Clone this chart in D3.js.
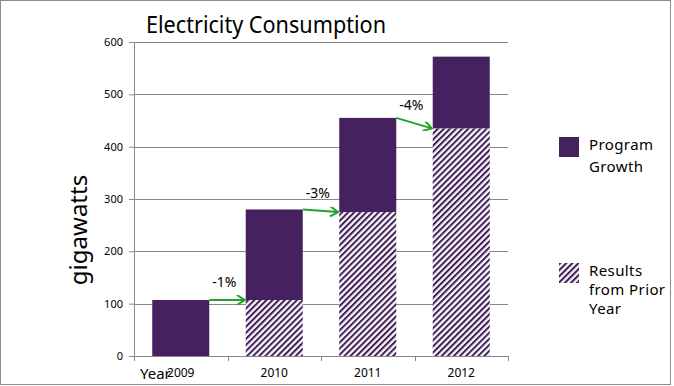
<!DOCTYPE html>
<html>
<head>
<meta charset="utf-8">
<script src="https://cdn.jsdelivr.net/npm/d3@7"></script>
<style>
    body { margin: 0; background: #ffffff; }
    svg text { font-family: "Noto Sans", "DejaVu Sans", sans-serif; }
</style>
</head>
<body>
<div id="chart"></div>
<script>
// chart values
const years = ["2009", "2010", "2011", "2012"];
const priorYear = [0, 107, 275, 435];
const programGrowth = [107, 173, 180, 137];
const changeLabels = ["-1%", "-3%", "-4%"];
const yTicks = [0, 100, 200, 300, 400, 500, 600];

const width = 674;
const height = 386;
const margin = { top: 42, right: 166, bottom: 30, left: 134 };

const svg = d3.select("#chart")
    .append("svg")
    .attr("width", width)
    .attr("height", height);

// 外框
svg.append("rect")
    .attr("x", 0.5).attr("y", 0.5)
    .attr("width", 670).attr("height", 384)
    .attr("fill", "#ffffff")
    .attr("stroke", "#8c8c8c");

// 斜線圖樣
const defs = svg.append("defs");
const hatch = defs.append("pattern")
    .attr("id", "hatch")
    .attr("patternUnits", "userSpaceOnUse")
    .attr("width", 4.3)
    .attr("height", 4.3)
    .attr("patternTransform", "rotate(45)");
hatch.append("rect")
    .attr("width", 4.3).attr("height", 4.3)
    .attr("fill", "#fdf6fd");
hatch.append("line")
    .attr("x1", 1).attr("y1", 0)
    .attr("x2", 1).attr("y2", 4.3)
    .attr("stroke", "#3d2155")
    .attr("stroke-width", 2);

const arrowHead = defs.append("marker")
    .attr("id", "arrow")
    .attr("viewBox", "0 0 10 10")
    .attr("refX", 9).attr("refY", 5)
    .attr("markerWidth", 10).attr("markerHeight", 10)
    .attr("markerUnits", "userSpaceOnUse")
    .attr("orient", "auto");
arrowHead.append("path")
    .attr("d", "M1,0 L9,5 L1,10")
    .attr("fill", "none")
    .attr("stroke", "#22a32a")
    .attr("stroke-width", 2);

const innerW = width - margin.left - margin.right;
const innerH = height - margin.top - margin.bottom;
const g = svg.append("g")
    .attr("transform", `translate(${margin.left},${margin.top})`);

const x = d3.scaleBand()
    .domain(years)
    .range([0, innerW])
    .paddingInner(0.39)
    .paddingOuter(0.195);

const y = d3.scaleLinear()
    .domain([0, 600])
    .range([innerH, 0]);

// 格線
g.selectAll(".grid-line")
    .data(yTicks.filter(d => d > 0))
    .enter()
    .append("line")
    .attr("x1", 0)
    .attr("x2", innerW)
    .attr("y1", d => Math.round(y(d)) + 0.5)
    .attr("y2", d => Math.round(y(d)) + 0.5)
    .attr("stroke", "#888888");

// 長條
const totals = years.map((d, i) => priorYear[i] + programGrowth[i]);

g.selectAll(".bar-prior")
    .data(years)
    .enter()
    .append("rect")
    .attr("x", d => x(d))
    .attr("width", x.bandwidth())
    .attr("y", (d, i) => y(priorYear[i]))
    .attr("height", (d, i) => y(0) - y(priorYear[i]))
    .attr("fill", "url(#hatch)");

g.selectAll(".bar-growth")
    .data(years)
    .enter()
    .append("rect")
    .attr("x", d => x(d))
    .attr("width", x.bandwidth())
    .attr("y", (d, i) => y(totals[i]))
    .attr("height", (d, i) => y(priorYear[i]) - y(totals[i]))
    .attr("fill", "#45215f");

// y 軸
g.append("g")
    .call(d3.axisLeft(y).tickValues(yTicks).tickSize(5).tickPadding(6).tickSizeOuter(0))
    .call(a => a.select(".domain").attr("stroke", "#888888"))
    .call(a => a.selectAll(".tick line").attr("stroke", "#888888"))
    .call(a => a.selectAll(".tick text")
        .attr("fill", "#000000")
        .attr("font-size", "11px"));

// x 軸
const xAxis = g.append("g")
    .attr("transform", `translate(0,${innerH})`);
xAxis.append("line")
    .attr("x1", 0).attr("x2", innerW)
    .attr("y1", 0.5).attr("y2", 0.5)
    .attr("stroke", "#888888");
xAxis.selectAll(".xtick")
    .data(years)
    .enter()
    .append("line")
    .attr("x1", d => Math.round(x(d) + x.bandwidth() / 2 + x.step() / 2) + 0.5)
    .attr("x2", d => Math.round(x(d) + x.bandwidth() / 2 + x.step() / 2) + 0.5)
    .attr("y1", 0).attr("y2", 5)
    .attr("stroke", "#888888");
xAxis.append("line")
    .attr("x1", 0.5).attr("x2", 0.5)
    .attr("y1", 0).attr("y2", 5)
    .attr("stroke", "#888888");
xAxis.selectAll(".xlabel")
    .data(years)
    .enter()
    .append("text")
    .attr("x", d => x(d) + x.bandwidth() / 2)
    .attr("y", 21)
    .attr("text-anchor", "middle")
    .attr("font-size", "12px")
    .attr("fill", "#000000")
    .text(d => d);

// 箭頭
g.selectAll(".change-arrow")
    .data(changeLabels)
    .enter()
    .append("line")
    .attr("x1", (d, i) => x(years[i]) + x.bandwidth())
    .attr("y1", (d, i) => y(totals[i]))
    .attr("x2", (d, i) => x(years[i + 1]) - 1)
    .attr("y2", (d, i) => y(priorYear[i + 1]))
    .attr("stroke", "#22a32a")
    .attr("stroke-width", 2)
    .attr("marker-end", "url(#arrow)");

g.selectAll(".change-label")
    .data(changeLabels)
    .enter()
    .append("text")
    .attr("x", (d, i) => x(years[i]) + x.bandwidth() + 15)
    .attr("y", (d, i) => (y(totals[i]) + y(priorYear[i + 1])) / 2 - 13)
    .attr("text-anchor", "middle")
    .attr("font-size", "14px")
    .attr("fill", "#000000")
    .text(d => d);

// 標題與軸標籤
svg.append("text")
    .attr("x", 266)
    .attr("y", 33)
    .attr("text-anchor", "middle")
    .attr("font-size", "24px")
    .attr("textLength", 240)
    .attr("lengthAdjust", "spacingAndGlyphs")
    .attr("fill", "#000000")
    .text("Electricity Consumption");

svg.append("text")
    .attr("transform", "translate(87,230) rotate(-90)")
    .attr("text-anchor", "middle")
    .attr("font-size", "24px")
    .attr("fill", "#000000")
    .text("gigawatts");

svg.append("text")
    .attr("x", 140)
    .attr("y", 379)
    .attr("font-size", "15px")
    .attr("fill", "#000000")
    .text("Year");

// 圖例
const legendItems = [
    { fill: "#45215f", y: 137, lines: ["Program", "Growth"], step: 22 },
    { fill: "url(#hatch)", y: 263, lines: ["Results", "from Prior", "Year"], step: 19 }
];
const legend = svg.selectAll(".legend")
    .data(legendItems)
    .enter()
    .append("g")
    .attr("transform", d => `translate(559,${d.y})`);
legend.append("rect")
    .attr("width", 20).attr("height", 20)
    .attr("fill", d => d.fill);
legend.append("text")
    .attr("x", 30)
    .attr("y", 13)
    .attr("font-size", "15px")
    .attr("letter-spacing", "0.4px")
    .attr("fill", "#000000")
    .selectAll("tspan")
    .data(d => d.lines.map(t => ({ t: t, step: d.step })))
    .enter()
    .append("tspan")
    .attr("x", 30)
    .attr("dy", (d, i) => i === 0 ? 0 : d.step)
    .text(d => d.t);
</script>
</body>
</html>
